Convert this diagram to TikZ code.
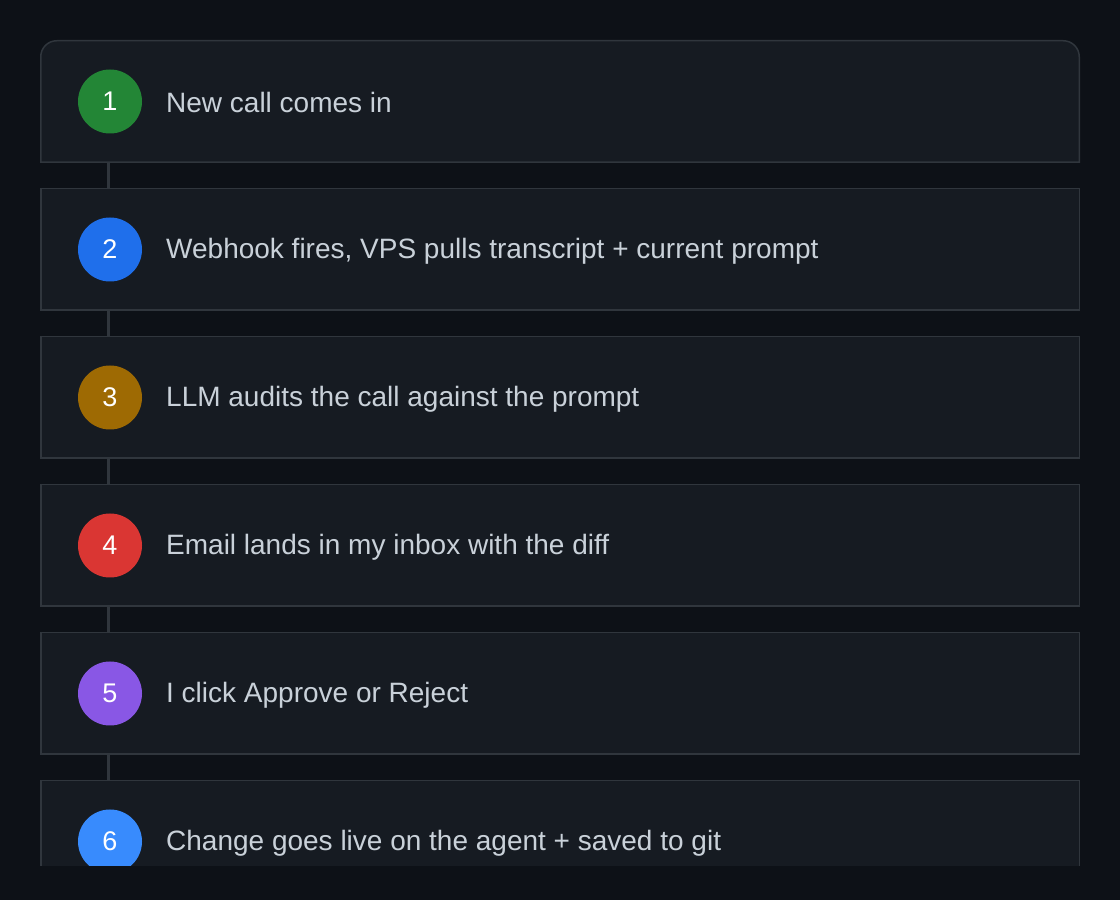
\documentclass[tikz,border=0pt]{standalone}
\usepackage{fontspec}
\setmainfont{Liberation Sans}
\usetikzlibrary{positioning}

\definecolor{pagebg}{HTML}{0D1117}
\definecolor{boxbg}{HTML}{161B22}
\definecolor{boxline}{HTML}{30363D}
\definecolor{textgray}{HTML}{C9D1D9}
\definecolor{stepgreen}{HTML}{238636}
\definecolor{stepblue}{HTML}{1F6FEB}
\definecolor{stepamber}{HTML}{9E6A03}
\definecolor{stepred}{HTML}{DA3633}
\definecolor{steppurple}{HTML}{8957E5}
\definecolor{steplight}{HTML}{388BFD}

\begin{document}
\begin{tikzpicture}[x=1pt,y=1pt,
    stepbox/.style={rectangle,fill=boxbg,draw=boxline,line width=1.5pt,
      minimum width=1038.5pt,minimum height=121.5pt,inner sep=0,outer sep=0},
    firstbox/.style={stepbox,fill=none,draw=none},
    num/.style={circle,minimum size=64pt,inner sep=0,outer sep=0,text=white,
      font=\fontsize{27}{32}\selectfont},
    steptext/.style={inner sep=0,anchor=west,text=textgray,
      font=\fontsize{28}{32}\selectfont},
    link/.style={draw=boxline,line width=3pt}
]
\useasboundingbox (0,0) rectangle (1120,900);
\fill[pagebg] (0,0) rectangle (1120,900);

\begin{scope}
\clip (0,34) rectangle (1120,900);

% first step has rounded top corners
\node[firstbox] (b1) at (560,798.5) {};
\fill[boxbg,draw=boxline,line width=1.5pt] (b1.south west)
  -- ([yshift=-16pt]b1.north west) arc (180:90:16)
  -- ([xshift=-16pt]b1.north east) arc (90:0:16)
  -- (b1.south east) -- cycle;

\foreach \n in {2,...,6}{
  \node[stepbox] (b\n) at (560,{798.5-148*(\n-1)}) {};
}

\foreach \n/\col/\txt in {
    1/stepgreen/{New call comes in},
    2/stepblue/{Webhook fires, VPS pulls transcript + current prompt},
    3/stepamber/{LLM audits the call against the prompt},
    4/stepred/{Email lands in my inbox with the diff},
    5/steppurple/{I click Approve or Reject},
    6/steplight/{Change goes live on the agent + saved to git}}{
  \node[num,fill=\col] (c\n) at ([xshift=69.25pt]b\n.west) {\n};
  \node[steptext,right=24pt of c\n,yshift=-1.5pt] (t\n) {\txt};
}

\foreach \a/\b in {1/2,2/3,3/4,4/5,5/6}{
  \draw[link] ([xshift=-2pt]c\a |- b\a.south) -- ([xshift=-2pt]c\a |- b\b.north);
}
\end{scope}

\end{tikzpicture}
\end{document}
